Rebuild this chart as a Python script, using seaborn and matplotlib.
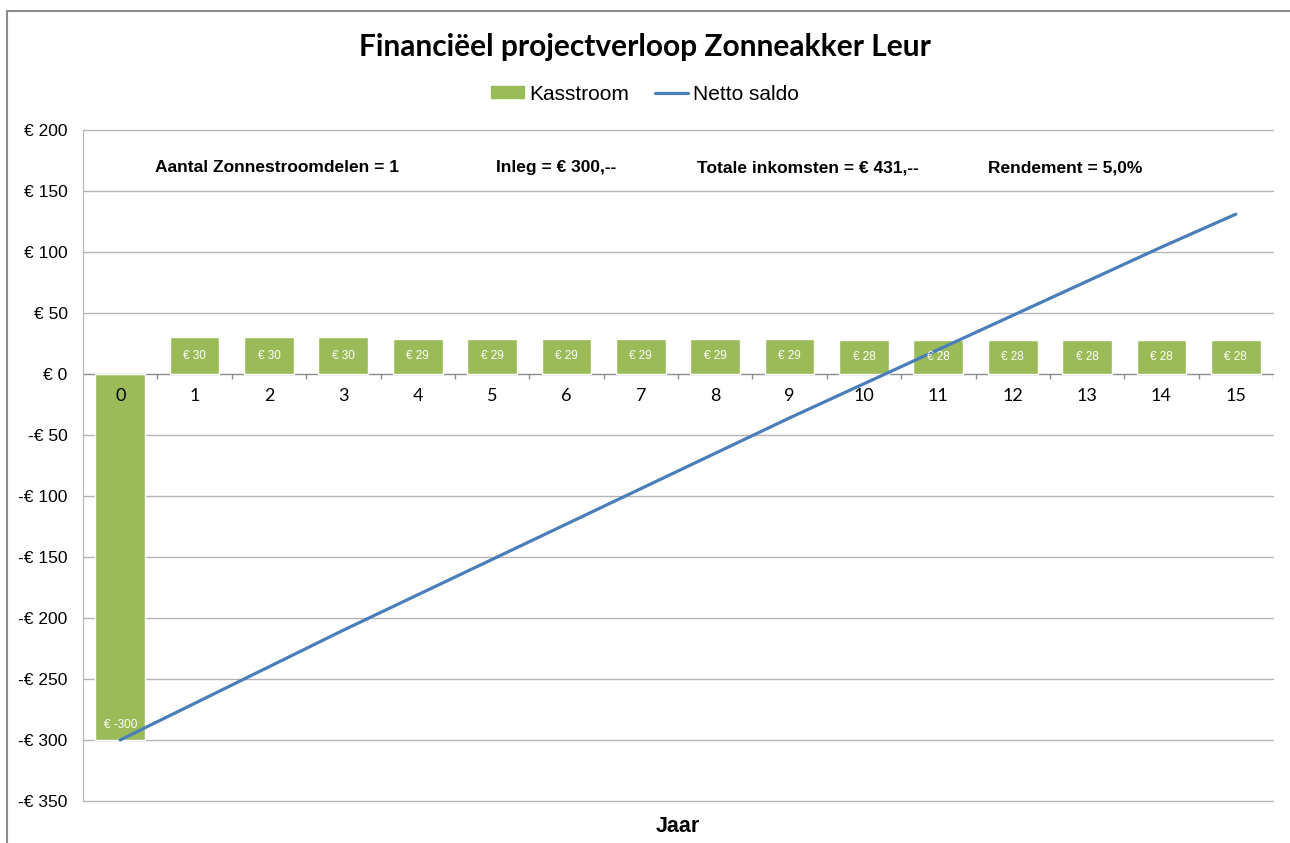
import matplotlib
matplotlib.use("Agg")
import matplotlib.pyplot as plt
import matplotlib.lines as mlines
import matplotlib.patches as mpatches
import matplotlib.transforms as mtrans
import seaborn as sns
import pandas as pd
import numpy as np

jaren = list(range(16))
kasstroom = [-300, 30, 30, 30, 29, 29, 29, 29, 29, 29, 28, 28, 28, 28, 28, 28]
netto_saldo = [-300, -270, -240, -210, -181, -152, -123, -94, -65, -36, -8, 20, 48, 76, 104, 131]
y_ticks = [200, 150, 100, 50, 0, -50, -100, -150, -200, -250, -300, -350]
info = ["Aantal Zonnestroomdelen = 1", "Inleg = € 300,--",
        "Totale inkomsten = € 431,--", "Rendement = 5,0%"]

df = pd.DataFrame({'Jaar': jaren, 'Kasstroom': kasstroom, 'Netto saldo': netto_saldo})

sns.set_style("white")
plt.rcParams['font.family'] = ['Liberation Sans', 'DejaVu Sans']
plt.rcParams['text.color'] = 'black'
plt.rcParams['ytick.color'] = 'black'

groen = '#9BBB59'
blauw = '#4A7EBB'

fig = plt.figure(figsize=(12.9, 8.43), dpi=100)
ax = fig.add_axes([83/1290, 1-801/843, 1190/1290, 671/843])

sns.barplot(x='Jaar', y='Kasstroom', data=df, color=groen, width=0.67,
            saturation=1, ax=ax, zorder=2)
sns.lineplot(x='Jaar', y='Netto saldo', data=df, color=blauw, linewidth=2.3,
             ax=ax, zorder=3)

ax.set_xlim(-0.5, 15.5)
ax.set_ylim(-350, 200)
ax.set_yticks(y_ticks)
ax.set_yticklabels([("€ %d" % v) if v >= 0 else ("-€ %d" % -v) for v in y_ticks],
                   fontsize=12.5)
ax.tick_params(axis='y', length=5, color='#8c8c8c', labelcolor='black', pad=6)
ax.set_xticks([])
ax.set_xlabel('')
ax.set_ylabel('')
for v in y_ticks:
    ax.axhline(v, color='#b4b4b4' if v != 0 else '#8c8c8c', linewidth=1,
               zorder=1, clip_on=False)
for s in ['top', 'right', 'bottom']:
    ax.spines[s].set_visible(False)
ax.spines['left'].set_color('#b4b4b4')

# ticks between categories below zero line
ax.vlines(np.arange(0.5, 16, 1), -4, 0, color='#8c8c8c', linewidth=1, zorder=1)

# category labels just under zero
for x in jaren:
    ax.text(x, -18, str(x), ha='center', va='center', fontsize=13,
            family=['Lato', 'DejaVu Sans'], zorder=4)

# bar labels
for x, v in zip(jaren, kasstroom):
    yy = v / 2 if v > 0 else v + 12
    ax.text(x, yy, "€ %d" % v, ha='center', va='center', fontsize=8.5,
            color='white', zorder=4)

blend = mtrans.blended_transform_factory(ax.transAxes, ax.transData)
for xf, t in zip([0.163, 0.398, 0.609, 0.825], info):
    ax.text(xf, 169, t, transform=blend, ha='center', va='center',
            fontsize=12.5, fontweight='bold')

ax.text(0.5, -0.022, 'Jaar', transform=ax.transAxes, ha='center', va='top',
        fontsize=15.5, fontweight='bold')

fig.text(0.5, 1-47/843, 'Financiëel projectverloop Zonneakker Leur', ha='center',
         va='center', fontsize=21.5, fontweight='bold', family=['Lato', 'DejaVu Sans'])

h1 = mpatches.Patch(color=groen, label='Kasstroom')
h2 = mlines.Line2D([], [], color=blauw, linewidth=2.3, label='Netto saldo')
fig.legend(handles=[h1, h2], loc='center', bbox_to_anchor=(0.5, 1-94/843), ncol=2,
           frameon=False, fontsize=15, handlelength=1.6, handleheight=0.5,
           handletextpad=0.25, columnspacing=1.2)

# chart border
fig.add_artist(mlines.Line2D([7/1290, 1], [1-11/843, 1-11/843], color='#8c8c8c', linewidth=1.5))
fig.add_artist(mlines.Line2D([7/1290, 7/1290], [0, 1-11/843], color='#8c8c8c', linewidth=1.5))

fig.savefig('out.png', dpi=100)
